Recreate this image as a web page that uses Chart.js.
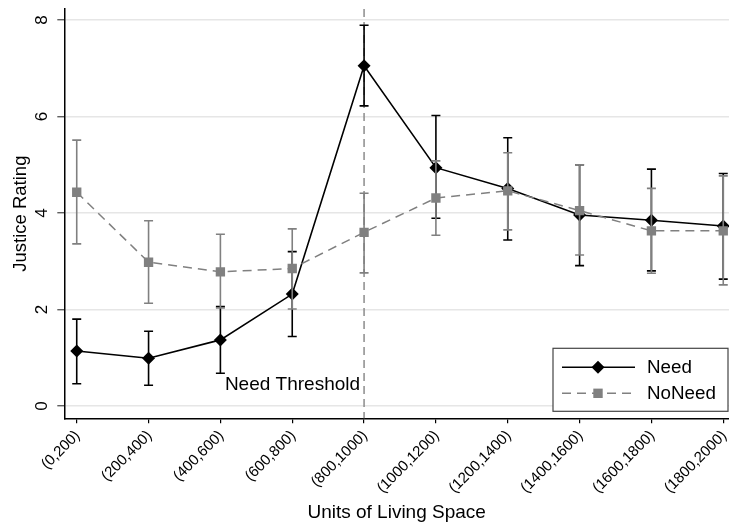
<!DOCTYPE html>
<html>
<head>
<meta charset="utf-8">
<script src="https://cdn.jsdelivr.net/npm/chart.js@4/dist/chart.umd.min.js"></script>
<style>
  html, body { margin: 0; padding: 0; background: #fff; }
  #chart { display: block; }
</style>
</head>
<body>
<canvas id="chart" width="729" height="526"></canvas>
<script>
var categories = ['(0,200)', '(200,400)', '(400,600)', '(600,800)', '(800,1000)',
    '(1000,1200)', '(1200,1400)', '(1400,1600)', '(1600,1800)', '(1800,2000)'];

var needMean = [1.14, 0.99, 1.37, 2.32, 7.05, 4.94, 4.51, 3.96, 3.85, 3.73];
var needLow = [0.46, 0.43, 0.68, 1.44, 6.22, 3.89, 3.44, 2.91, 2.80, 2.63];
var needHigh = [1.80, 1.55, 2.06, 3.20, 7.89, 6.02, 5.56, 5.00, 4.91, 4.82];

var noNeedMean = [4.43, 2.98, 2.78, 2.85, 3.60, 4.31, 4.46, 4.05, 3.63, 3.63];
var noNeedLow = [3.36, 2.13, 2.03, 2.01, 2.76, 3.54, 3.65, 3.13, 2.75, 2.51];
var noNeedHigh = [5.51, 3.84, 3.56, 3.67, 4.41, 5.08, 5.25, 5.00, 4.51, 4.77];

var yTicks = [0, 2, 4, 6, 8];
var thresholdIndex = 4;
var thresholdLabel = 'Need Threshold';

var FONT = '"Liberation Sans", Arial, Helvetica, sans-serif';
var GRAY = '#808080';

function toPoints(vals) {
    return vals.map(function (v, i) { return { x: i, y: v }; });
}

// error bars for one dataset, drawn right after that dataset
var errorBars = {
    id: 'errorBars',
    afterDatasetDraw: function (chart, args) {
        var ds = chart.data.datasets[args.index];
        var ctx = chart.ctx;
        var xs = chart.scales.x, ys = chart.scales.y;
        ctx.save();
        ctx.strokeStyle = ds.borderColor;
        ctx.lineWidth = 1.6;
        ds.low.forEach(function (lo, i) {
            var px = xs.getPixelForValue(i);
            var y1 = ys.getPixelForValue(lo);
            var y2 = ys.getPixelForValue(ds.high[i]);
            ctx.beginPath();
            ctx.moveTo(px, y1); ctx.lineTo(px, y2);
            ctx.moveTo(px - 4.5, y1); ctx.lineTo(px + 4.5, y1);
            ctx.moveTo(px - 4.5, y2); ctx.lineTo(px + 4.5, y2);
            ctx.stroke();
        });
        ctx.restore();
    }
};

// threshold line, its label and the rotated tick labels
var extras = {
    id: 'extras',
    beforeDatasetsDraw: function (chart) {
        var ctx = chart.ctx, area = chart.chartArea;
        var xs = chart.scales.x, ys = chart.scales.y;
        var px = xs.getPixelForValue(thresholdIndex);
        ctx.save();
        ctx.strokeStyle = '#8c8c8c';
        ctx.lineWidth = 1.5;
        ctx.setLineDash([8, 5]);
        ctx.beginPath();
        ctx.moveTo(px, area.top);
        ctx.lineTo(px, area.bottom);
        ctx.stroke();
        ctx.setLineDash([]);
        ctx.fillStyle = '#000';
        ctx.font = '19px ' + FONT;
        ctx.textAlign = 'right';
        ctx.textBaseline = 'alphabetic';
        ctx.fillText(thresholdLabel, px - 4, ys.getPixelForValue(0.33));
        ctx.restore();
    },
    afterDraw: function (chart) {
        var ctx = chart.ctx, area = chart.chartArea;
        var xs = chart.scales.x, ys = chart.scales.y;
        ctx.save();
        ctx.fillStyle = '#000';
        ctx.font = '17px ' + FONT;
        ctx.textAlign = 'center';
        ctx.textBaseline = 'middle';
        ys.ticks.forEach(function (t) {
            ctx.save();
            ctx.translate(area.left - 22, ys.getPixelForValue(t.value));
            ctx.rotate(-Math.PI / 2);
            ctx.fillText(String(t.value), 0, 0);
            ctx.restore();
        });
        ctx.font = '15px ' + FONT;
        ctx.textAlign = 'right';
        xs.ticks.forEach(function (t) {
            ctx.save();
            ctx.translate(xs.getPixelForValue(t.value) + 1, area.bottom + 15);
            ctx.rotate(-Math.PI / 4);
            ctx.fillText(categories[t.value], 0, 0);
            ctx.restore();
        });
        ctx.restore();
    }
};

// legend box in the lower right corner of the plot
var legendBox = {
    id: 'legendBox',
    afterDraw: function (chart) {
        var ctx = chart.ctx, area = chart.chartArea;
        var bx = area.right - 176, by = area.bottom - 70, bw = 175, bh = 63;
        ctx.save();
        ctx.fillStyle = '#fff';
        ctx.fillRect(bx, by, bw, bh);
        ctx.strokeStyle = '#444';
        ctx.lineWidth = 1.2;
        ctx.strokeRect(bx, by, bw, bh);
        var rows = [chart.data.datasets[1], chart.data.datasets[0]];
        rows.forEach(function (ds, r) {
            var cy = by + 19 + r * 26;
            ctx.strokeStyle = ds.borderColor;
            ctx.lineWidth = 1.5;
            ctx.setLineDash(ds.borderDash || []);
            ctx.beginPath();
            ctx.moveTo(bx + 9, cy);
            ctx.lineTo(bx + 82, cy);
            ctx.stroke();
            ctx.setLineDash([]);
            ctx.fillStyle = ds.pointBackgroundColor;
            var mx = bx + 45;
            ctx.beginPath();
            if (ds.pointStyle === 'rectRot') {
                ctx.moveTo(mx, cy - 6.5); ctx.lineTo(mx + 6.5, cy);
                ctx.lineTo(mx, cy + 6.5); ctx.lineTo(mx - 6.5, cy);
            } else {
                ctx.rect(mx - 4.7, cy - 4.7, 9.4, 9.4);
            }
            ctx.closePath();
            ctx.fill();
            ctx.fillStyle = '#000';
            ctx.font = '18.8px ' + FONT;
            ctx.textAlign = 'left';
            ctx.textBaseline = 'middle';
            ctx.fillText(ds.label, bx + 94, cy + 1);
        });
        ctx.restore();
    }
};

new Chart(document.getElementById('chart').getContext('2d'), {
    type: 'line',
    data: {
        datasets: [{
            label: 'NoNeed',
            data: toPoints(noNeedMean),
            low: noNeedLow,
            high: noNeedHigh,
            borderColor: GRAY,
            borderWidth: 1.5,
            borderDash: [9, 6],
            pointStyle: 'rect',
            pointRadius: 6.6,
            pointBackgroundColor: GRAY,
            pointBorderWidth: 0,
            order: 1
        }, {
            label: 'Need',
            data: toPoints(needMean),
            low: needLow,
            high: needHigh,
            borderColor: '#000',
            borderWidth: 1.6,
            pointStyle: 'rectRot',
            pointRadius: 6.5,
            pointBackgroundColor: '#000',
            pointBorderWidth: 0,
            order: 2
        }]
    },
    options: {
        responsive: false,
        animation: false,
        layout: { autoPadding: false, padding: { top: 9, right: 0, left: 0, bottom: 0 } },
        plugins: { legend: { display: false }, tooltip: { enabled: false } },
        scales: {
            x: {
                type: 'linear',
                min: -0.173,
                max: 9.08,
                afterBuildTicks: function (scale) {
                    scale.ticks = categories.map(function (c, i) { return { value: i }; });
                },
                afterFit: function (scale) {
                    scale.height = 107.7;
                },
                ticks: { display: false },
                grid: { drawOnChartArea: false, tickLength: 5, color: '#000', lineWidth: 1.2 },
                border: { display: true, color: '#000', width: 1.5 },
                title: {
                    display: true,
                    text: 'Units of Living Space',
                    color: '#000',
                    font: { family: FONT, size: 19 },
                    padding: { top: 0, bottom: 1.5 }
                }
            },
            y: {
                min: -0.255,
                max: 8.228,
                afterBuildTicks: function (scale) {
                    scale.ticks = yTicks.map(function (v) { return { value: v }; });
                },
                afterFit: function (scale) {
                    scale.width = 64.3;
                },
                ticks: { display: false },
                grid: { color: '#e6e6e6', lineWidth: 1.5, tickColor: '#444', tickLength: 7, tickWidth: 1.2 },
                border: { display: true, color: '#000', width: 1.5 },
                title: {
                    display: true,
                    text: 'Justice Rating',
                    color: '#000',
                    font: { family: FONT, size: 18.5 },
                    padding: { top: 9.5, bottom: 0 }
                }
            }
        }
    },
    plugins: [extras, errorBars, legendBox]
});
</script>
</body>
</html>
